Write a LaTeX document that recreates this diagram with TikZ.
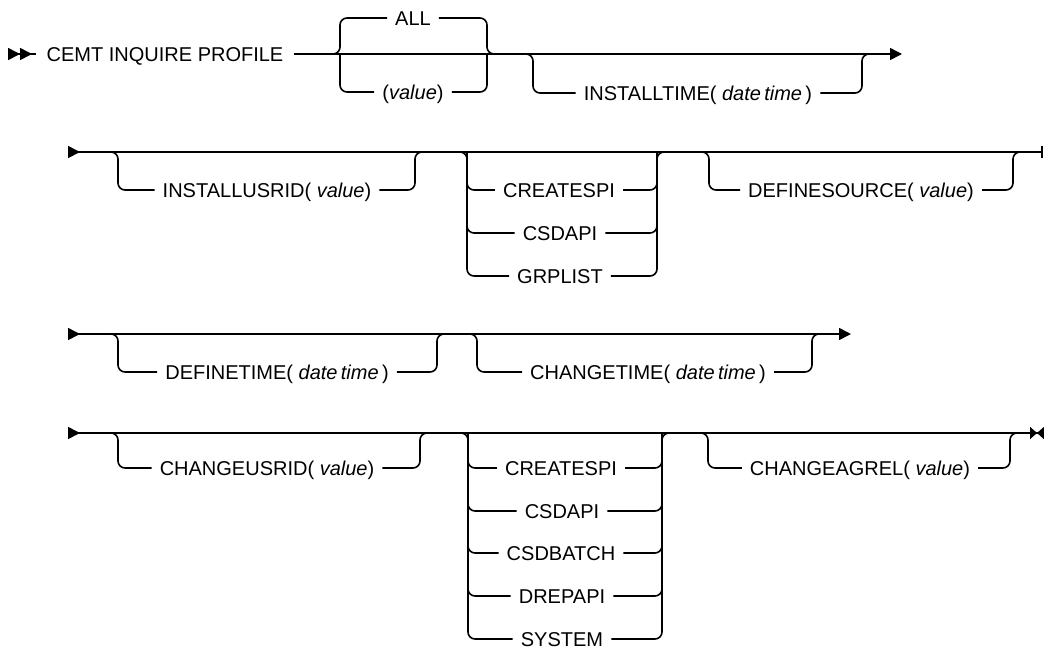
\documentclass[tikz,border=0pt]{standalone}
\usepackage{fontspec}
\setmainfont{Liberation Sans}
\usetikzlibrary{arrows.meta}

\begin{document}
\begin{tikzpicture}[
    x=1pt, y=-1pt,
    kw/.style={inner xsep=8pt, inner ysep=0pt, text height=14.3pt, text depth=0pt, font=\fontsize{20}{20}\selectfont},
    rail/.style={line width=1.6pt, rounded corners=7pt},
    rtip/.tip={Triangle[length=12pt, width=12pt]},
    ltip/.tip={Triangle[length=12pt, width=12pt, reversed]}
]
\useasboundingbox (0,0) rectangle (1044,649);

% row 1
\coordinate (s1) at (8,54);
\node[kw, inner xsep=10pt] (title) at (165,54) {CEMT INQUIRE PROFILE};
\node[kw] (all) at (413,18) {ALL};
\node[kw] (val) at (413,92) {(\textit{value})};
\node[kw] (itime) at (698,93) {INSTALLTIME(\ \textit{date\,time}\,)};
\coordinate (g1l) at (340,54);
\coordinate (g1r) at (487,54);
\coordinate (b1l) at (533,54);
\coordinate (b1r) at (862,54);
\coordinate (e1) at (902,54);
\draw[rail, {ltip[] ltip[]}-] (s1) -- (title);
\draw[rail, -{rtip[]}] (title) -- (e1);
\draw[rail] ([xshift=-10pt]g1l) -- (g1l) |- (all);
\draw[rail] (g1l) |- (val);
\draw[rail] (all) -| (g1r) -- ([xshift=10pt]g1r);
\draw[rail] (val) -| (g1r);
\draw[rail] ([xshift=-8pt]b1l) -- (b1l) |- (itime);
\draw[rail] (itime) -| (b1r) -- ([xshift=8pt]b1r);

% row 2
\coordinate (s2) at (68,152);
\coordinate (e2) at (1043,152);
\node[kw] (iusr) at (267,190) {INSTALLUSRID(\ \textit{value})};
\node[kw] (cspi1) at (559,190) {CREATESPI};
\node[kw] (csd1) at (560,233) {CSDAPI};
\node[kw] (grp1) at (560,276) {GRPLIST};
\node[kw] (dsrc) at (861,190) {DEFINESOURCE(\ \textit{value})};
\coordinate (b2l) at (118,152);
\coordinate (b2r) at (415,152);
\coordinate (g2l) at (467,152);
\coordinate (g2r) at (657,152);
\coordinate (b3l) at (709,152);
\coordinate (b3r) at (1013,152);
\draw[rail, {ltip[]}-{Bar[width=12pt]}] (s2) -- (e2);
\draw[rail] ([xshift=-8pt]b2l) -- (b2l) |- (iusr);
\draw[rail] (iusr) -| (b2r) -- ([xshift=8pt]b2r);
\draw[rail] ([xshift=-10pt]g2l) -- (g2l) |- (grp1);
\draw[rail] (g2l) |- (cspi1);
\draw[rail] (cspi1 -| g2l) |- (csd1);
\draw[rail] (grp1) -| (g2r) -- ([xshift=10pt]g2r);
\draw[rail] (cspi1) -| (g2r);
\draw[rail] (csd1) -| (cspi1 -| g2r);
\draw[rail] ([xshift=-8pt]b3l) -- (b3l) |- (dsrc);
\draw[rail] (dsrc) -| (b3r) -- ([xshift=8pt]b3r);

% row 3
\coordinate (s3) at (68,334);
\coordinate (e3) at (851,334);
\node[kw] (dtime) at (277,372) {DEFINETIME(\ \textit{date\,time}\,)};
\node[kw] (ctime) at (648,372) {CHANGETIME(\ \textit{date\,time}\,)};
\coordinate (b4l) at (118,334);
\coordinate (b4r) at (437,334);
\coordinate (b5l) at (477,334);
\coordinate (b5r) at (812,334);
\draw[rail, {ltip[]}-{rtip[]}] (s3) -- (e3);
\draw[rail] ([xshift=-8pt]b4l) -- (b4l) |- (dtime);
\draw[rail] (dtime) -| (b4r) -- ([xshift=8pt]b4r);
\draw[rail] ([xshift=-8pt]b5l) -- (b5l) |- (ctime);
\draw[rail] (ctime) -| (b5r) -- ([xshift=8pt]b5r);

% row 4
\coordinate (s4) at (68,433);
\coordinate (e4) at (1044,433);
\node[kw] (cusr) at (267,468) {CHANGEUSRID(\ \textit{value})};
\node[kw] (cspi2) at (561,468) {CREATESPI};
\node[kw] (csd2) at (562,511) {CSDAPI};
\node[kw] (csdb) at (561,553) {CSDBATCH};
\node[kw] (drep) at (562,596) {DREPAPI};
\node[kw] (sys) at (562,639) {SYSTEM};
\node[kw] (cagr) at (860,468) {CHANGEAGREL(\ \textit{value})};
\coordinate (b6l) at (118,433);
\coordinate (b6r) at (420,433);
\coordinate (g4l) at (468,433);
\coordinate (g4r) at (662,433);
\coordinate (b7l) at (708,433);
\coordinate (b7r) at (1010,433);
\draw[rail, {ltip[]}-{rtip[length=7pt] ltip[length=7pt]}] (s4) -- (e4);
\draw[rail] ([xshift=-8pt]b6l) -- (b6l) |- (cusr);
\draw[rail] (cusr) -| (b6r) -- ([xshift=8pt]b6r);
\draw[rail] ([xshift=-10pt]g4l) -- (g4l) |- (sys);
\draw[rail] (g4l) |- (cspi2);
\draw[rail] (cspi2 -| g4l) |- (csd2);
\draw[rail] (csd2 -| g4l) |- (csdb);
\draw[rail] (csdb -| g4l) |- (drep);
\draw[rail] (sys) -| (g4r) -- ([xshift=10pt]g4r);
\draw[rail] (cspi2) -| (g4r);
\draw[rail] (csd2) -| (cspi2 -| g4r);
\draw[rail] (csdb) -| (csd2 -| g4r);
\draw[rail] (drep) -| (csdb -| g4r);
\draw[rail] ([xshift=-8pt]b7l) -- (b7l) |- (cagr);
\draw[rail] (cagr) -| (b7r) -- ([xshift=8pt]b7r);
\end{tikzpicture}
\end{document}
